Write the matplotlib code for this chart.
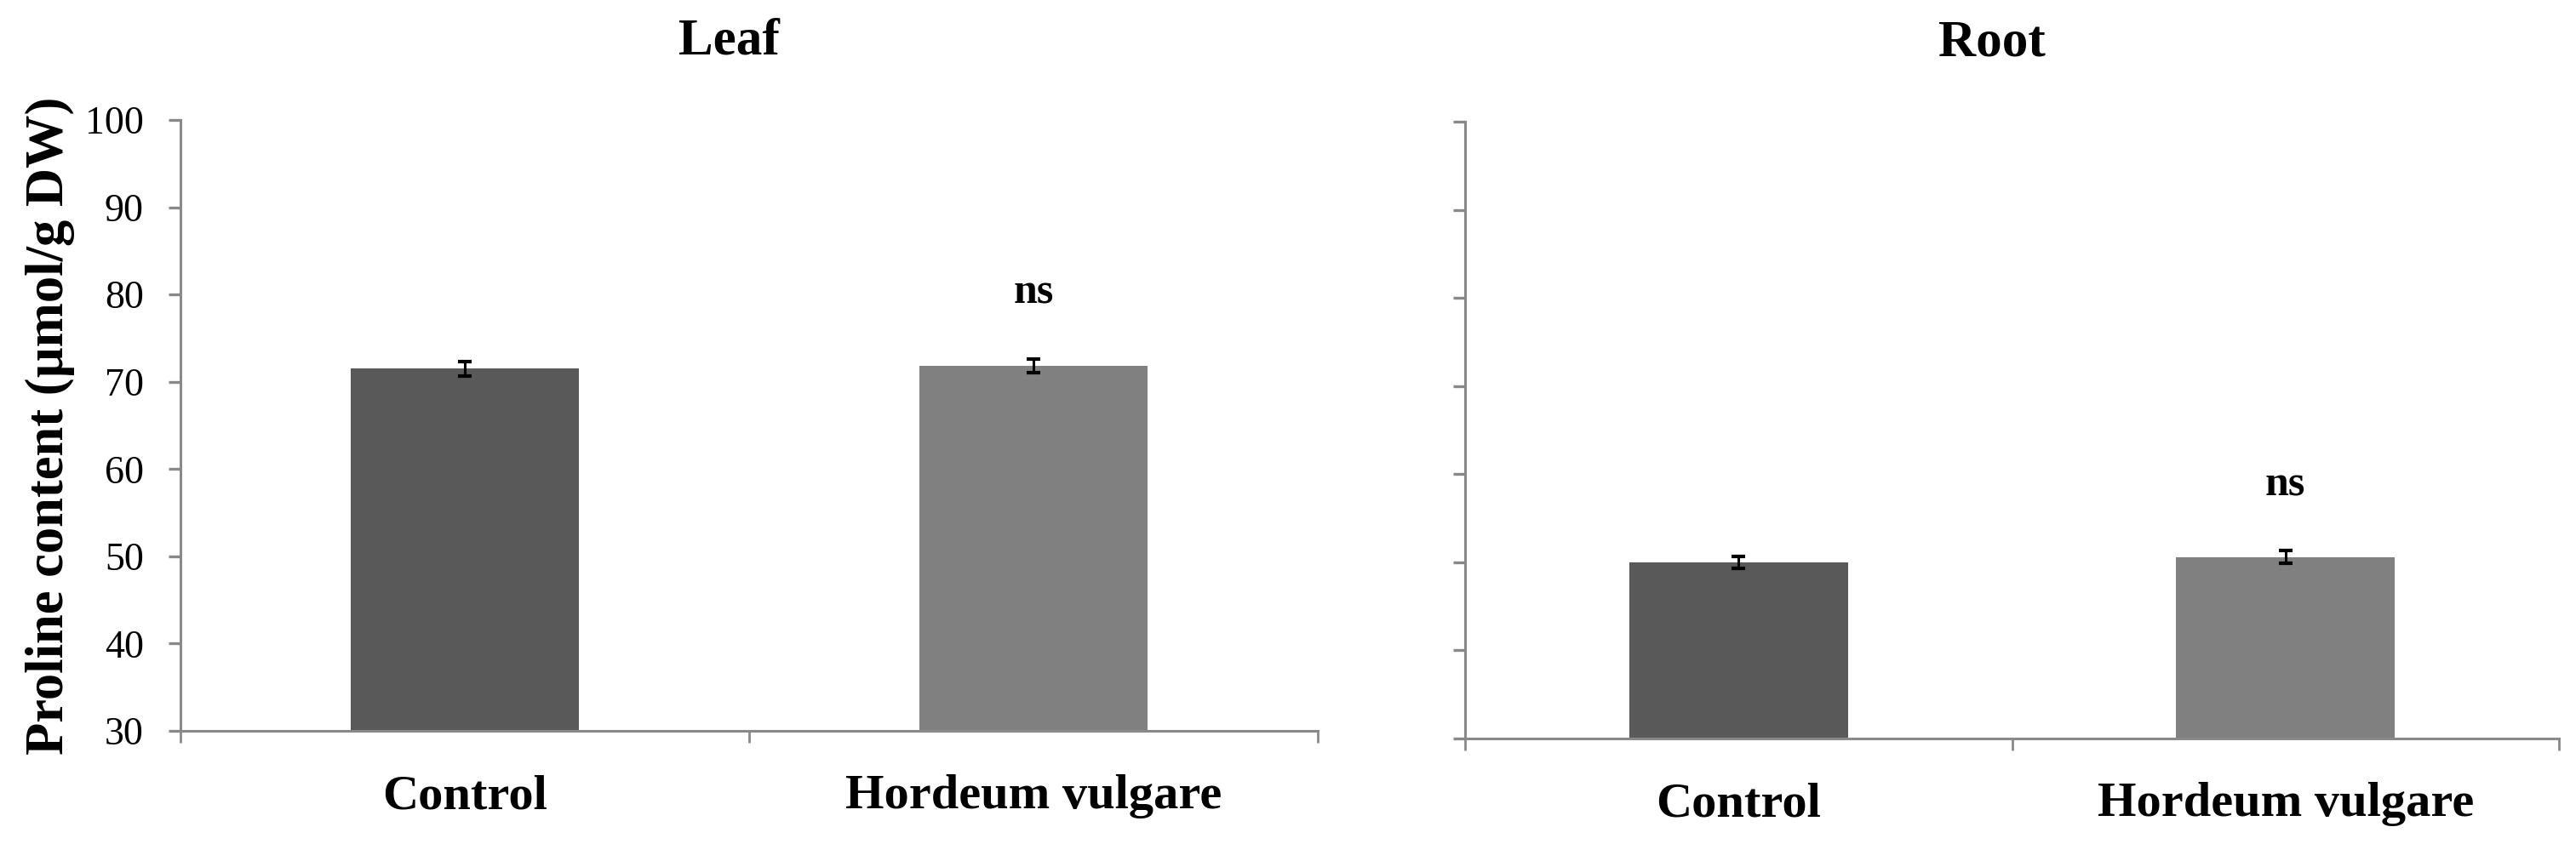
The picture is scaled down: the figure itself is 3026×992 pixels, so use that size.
import numpy as np
import matplotlib
matplotlib.use("Agg")
import matplotlib.pyplot as plt

# data
groups = ["Control", "Hordeum vulgare"]
leaf_mean = [71.5, 71.8]
leaf_err = [0.85, 0.8]
root_mean = [50.0, 50.6]
root_err = [0.7, 0.75]
sig_labels = ["", "ns"]
leaf_sig_y = [None, 80.2]
root_sig_y = [None, 58.7]
yticks = [30, 40, 50, 60, 70, 80, 90, 100]

bar_colors = ["#595959", "#808080"]
axis_gray = "#898989"
W, H = 3026, 992

plt.rcParams["font.family"] = ["Liberation Serif", "DejaVu Serif"]

fig = plt.figure(figsize=(W / 100, H / 100), dpi=100)


def px_axes(x0, x1, ytop, ybot):
    return fig.add_axes([x0 / W, 1 - ybot / H, (x1 - x0) / W, (ybot - ytop) / H])


def draw_panel(ax, means, errs, sig_y, title, show_labels):
    x = np.arange(len(groups))
    ax.bar(x, means, width=0.4, color=bar_colors, zorder=2)
    ax.errorbar(x, means, yerr=errs, fmt="none", ecolor="black",
                elinewidth=2.2, capsize=5.5, capthick=3, zorder=3)
    for xi, yv, lab in zip(x, sig_y, sig_labels):
        if yv is not None:
            ax.text(xi, yv, lab, ha="center", va="center",
                    fontsize=36, fontweight="bold")
    ax.set_xlim(-0.5, 1.5)
    ax.set_ylim(30, 100)
    ax.set_yticks(yticks)
    ax.set_xticks(x)
    ax.set_xticklabels(groups, fontsize=42, fontweight="bold")
    ax.set_xticks([-0.5, 0.5, 1.5], minor=True)
    ax.tick_params(axis="x", which="major", length=0, pad=37)
    ax.tick_params(axis="x", which="minor", length=10, width=2, color=axis_gray,
                   direction="out")
    ax.tick_params(axis="y", length=10, width=2.4, color=axis_gray,
                   direction="out", labelsize=33, pad=21)
    if not show_labels:
        ax.tick_params(axis="y", labelleft=False)
    for s in ["top", "right"]:
        ax.spines[s].set_visible(False)
    for s in ["left", "bottom"]:
        ax.spines[s].set_color(axis_gray)
        ax.spines[s].set_linewidth(2.2)
    ax.set_title(title, fontsize=44, fontweight="bold", pad=56, x=0.482)


ax1 = px_axes(212, 1548, 141, 859)
draw_panel(ax1, leaf_mean, leaf_err, leaf_sig_y, "Leaf", True)
ax1.set_ylabel("Proline content (µmol/g DW)", fontsize=45, fontweight="bold",
               labelpad=9)

ax2 = px_axes(1721, 3006, 143, 868)
draw_panel(ax2, root_mean, root_err, root_sig_y, "Root", False)

fig.savefig("out.png", dpi=100, facecolor="white")
